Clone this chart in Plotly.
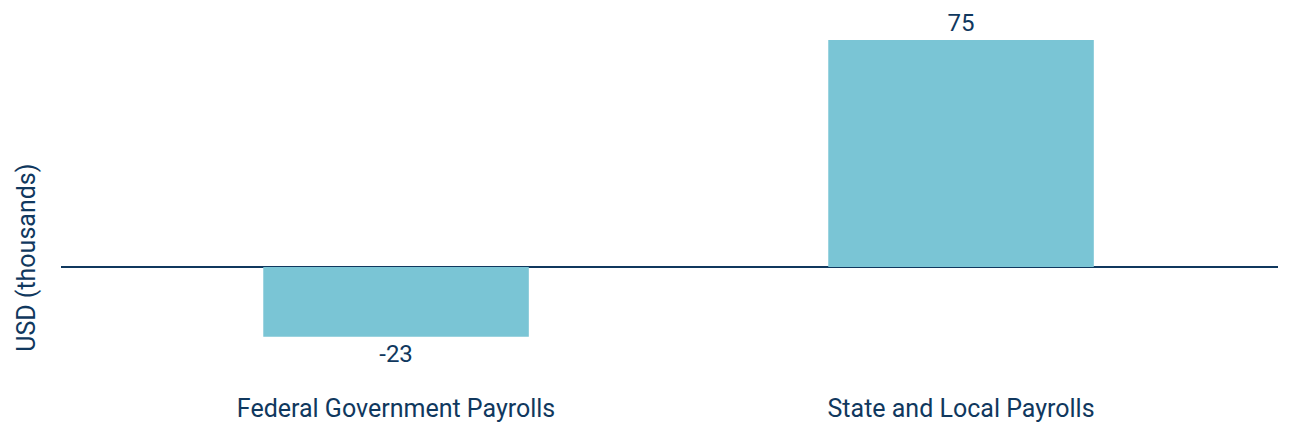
import plotly.graph_objects as go

categories = ["Federal Government Payrolls", "State and Local Payrolls"]
values = [-23, 75]
labels = [str(v) for v in values]
y_title = "USD (thousands)"

NAVY = "#10385e"
BAR = "#7ac5d5"

fig = go.Figure(
    go.Bar(
        x=categories,
        y=values,
        text=labels,
        textposition="outside",
        cliponaxis=False,
        marker={"color": BAR, "line": {"width": 0}},
        textfont={"color": NAVY, "size": 24},
    )
)
# axis title sits below the middle of the plot, so place it as an annotation
fig.add_annotation(
    text=y_title,
    xref="paper", yref="paper",
    x=-0.028, y=0.33,
    xanchor="center", yanchor="middle",
    textangle=-90,
    showarrow=False,
    font={"size": 25, "color": NAVY},
)
# page body has an 8px margin, so the figure is drawn 8px in from the window edge
fig.update_layout(
    width=1284,
    height=424,
    paper_bgcolor="white",
    plot_bgcolor="white",
    bargap=0.53,
    showlegend=False,
    font={"family": "Roboto, sans-serif", "color": NAVY, "size": 24},
    margin={"l": 53, "r": 14, "t": 2, "b": 52},
    xaxis={
        "range": [-0.593, 1.561],
        "showgrid": False,
        "showline": False,
        "ticks": "",
        "ticklabelstandoff": 11,
        "tickfont": {"size": 25},
    },
    yaxis={
        "range": [-37.3, 84.9],
        "showgrid": False,
        "showticklabels": False,
        "zeroline": True,
        "zerolinecolor": NAVY,
        "zerolinewidth": 2,
    },
)
fig.write_html("out.html")
